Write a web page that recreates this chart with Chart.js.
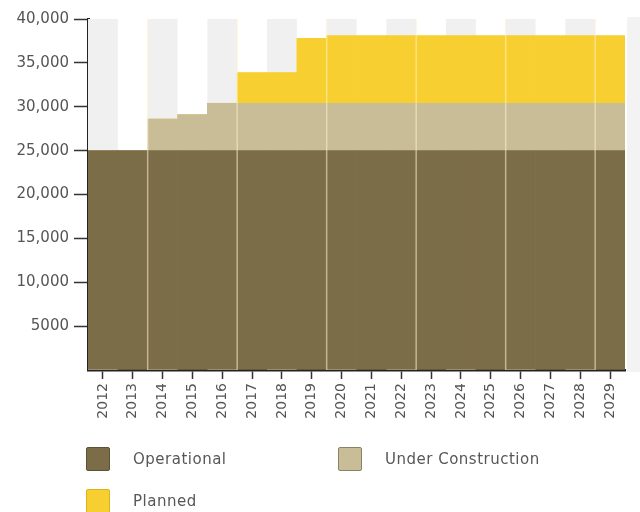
<!DOCTYPE html>
<html>
<head>
<meta charset="utf-8">
<script src="https://cdn.jsdelivr.net/npm/chart.js@4.4.0/dist/chart.umd.min.js"></script>
<style>
  body { margin: 0; background: #fff; }
  .wrap { position: relative; width: 640px; height: 512px; overflow: hidden; }
  #chart { position: absolute; left: 0; top: 0; }
  .edge { position: absolute; left: 627px; top: 17px; width: 13px; height: 355px; background: #f3f3f3; }
  #legend {
    position: absolute; left: 86px; top: 447px;
    display: grid; grid-template-columns: 252px auto; row-gap: 18px;
    font-family: "DejaVu Sans"; font-size: 15px; letter-spacing: 0.5px; color: #575757;
  }
  .item { display: flex; align-items: center; height: 24px; }
  .box { width: 24px; height: 24px; box-sizing: border-box; border: 1px solid; border-radius: 2px; margin-right: 23px; }
</style>
</head>
<body>
<div class="wrap">
  <div class="edge"></div>
  <canvas id="chart" width="640" height="512"></canvas>
  <div id="legend"></div>
</div>
<script>
//年（横軸）
var years = ["2012", "2013", "2014", "2015", "2016", "2017", "2018", "2019", "2020",
  "2021", "2022", "2023", "2024", "2025", "2026", "2027", "2028", "2029"];

//稼働中
var operational = [25000, 25000, 25000, 25000, 25000, 25000, 25000, 25000, 25000,
  25000, 25000, 25000, 25000, 25000, 25000, 25000, 25000, 25000];

//建設中
var underConstruction = [0, 0, 3600, 4100, 5400, 5400, 5400, 5400, 5400,
  5400, 5400, 5400, 5400, 5400, 5400, 5400, 5400, 5400];

//計画中
var planned = [0, 0, 0, 0, 0, 3500, 3500, 7400, 7700,
  7700, 7700, 7700, 7700, 7700, 7700, 7700, 7700, 7700];

//縦軸の目盛りラベル（0から順に）
var yTickLabels = ["", "5000", "10,000", "15,000", "20,000", "25,000", "30,000", "35,000", "40,000"];

//背景のしま模様と3年ごとの区切り線
var stripePlugin = {
  id: "stripes",
  beforeDatasetsDraw: function (chart) {
    var ctx = chart.ctx;
    var area = chart.chartArea;
    var x = chart.scales.x;
    var w = (area.right - area.left) / years.length;
    ctx.save();
    ctx.fillStyle = "#f0f0f0";
    for (var i = 0; i < years.length; i += 2) {
      var cx = x.getPixelForValue(i);
      ctx.fillRect(cx - w / 2, area.top, w, area.bottom - area.top);
    }
    ctx.restore();
  },
  afterDatasetsDraw: function (chart) {
    var ctx = chart.ctx;
    var area = chart.chartArea;
    var x = chart.scales.x;
    var w = (area.right - area.left) / years.length;
    ctx.save();
    ctx.strokeStyle = "rgba(255, 242, 200, 0.55)";
    ctx.lineWidth = 1.5;
    for (var i = 2; i < years.length; i += 3) {
      var bx = x.getPixelForValue(i) - w / 2;
      ctx.beginPath();
      ctx.moveTo(bx, area.top);
      ctx.lineTo(bx, area.bottom);
      ctx.stroke();
    }
    ctx.restore();
  }
};

var chart = new Chart(document.getElementById("chart"), {
  type: "bar",
  data: {
    labels: years,
    datasets: [
      {
        label: "Operational",
        data: operational,
        backgroundColor: "#7c6d49",
        borderColor: "#5e5236",
        borderWidth: 0
      },
      {
        label: "Under Construction",
        data: underConstruction,
        backgroundColor: "#c8bd97",
        borderColor: "#8a8266",
        borderWidth: 0
      },
      {
        label: "Planned",
        data: planned,
        backgroundColor: "#f7cf30",
        borderColor: "#d9b21c",
        borderWidth: 0
      }
    ]
  },
  options: {
    responsive: false,
    animation: false,
    layout: { padding: { top: 19, right: 15, left: 0, bottom: 0 } },
    datasets: {
      bar: { categoryPercentage: 1, barPercentage: 1 }
    },
    plugins: {
      legend: { display: false },
      tooltip: { enabled: false }
    },
    scales: {
      x: {
        stacked: true,
        z: 1,
        grid: {
          offset: false,
          drawOnChartArea: false,
          tickLength: 9,
          tickWidth: 1.5,
          tickColor: "#333"
        },
        border: { color: "#222", width: 2.5 },
        ticks: {
          autoSkip: false,
          minRotation: 90,
          maxRotation: 90,
          padding: 4,
          color: "#555",
          font: { family: "DejaVu Sans", size: 14 }
        },
        afterFit: function (scale) { scale.height = 142; }
      },
      y: {
        stacked: true,
        z: 1,
        min: 0,
        max: 40000,
        grid: {
          drawOnChartArea: false,
          tickLength: 14,
          tickWidth: 1.5,
          tickColor: function (c) {
            return c.tick && c.tick.value === 0 ? "rgba(0,0,0,0)" : "#333";
          }
        },
        border: { color: "#222", width: 3 },
        ticks: {
          stepSize: 5000,
          padding: 5,
          color: "#555",
          font: { family: "DejaVu Sans", size: 15 },
          callback: function (value, index) { return yTickLabels[index]; }
        },
        afterFit: function (scale) { scale.width = 88; }
      }
    }
  },
  plugins: [stripePlugin]
});

//凡例をHTMLで作る
var legendBox = document.getElementById("legend");
chart.data.datasets.forEach(function (ds) {
  var item = document.createElement("div");
  item.className = "item";
  var box = document.createElement("span");
  box.className = "box";
  box.style.background = ds.backgroundColor;
  box.style.borderColor = ds.borderColor;
  var text = document.createElement("span");
  text.textContent = ds.label;
  item.appendChild(box);
  item.appendChild(text);
  legendBox.appendChild(item);
});
</script>
</body>
</html>
